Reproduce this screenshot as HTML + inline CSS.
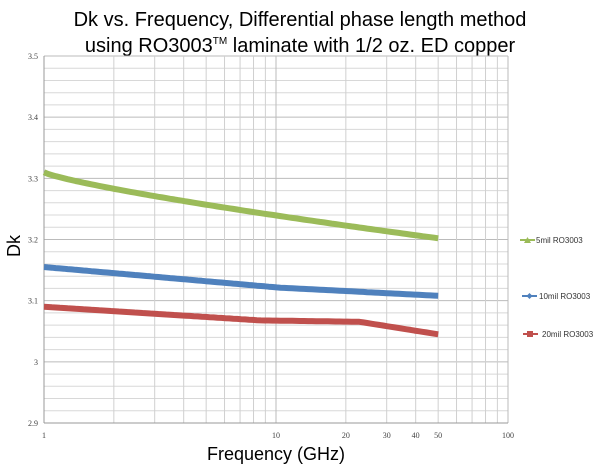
<!DOCTYPE html>
<html><head><meta charset="utf-8"><style>
body{margin:0;background:#fff;width:600px;height:470px;overflow:hidden}
</style></head><body>
<svg id="s" width="600" height="470" xmlns="http://www.w3.org/2000/svg" font-family="Liberation Sans, sans-serif">
<text x="300" y="26" font-size="20" text-anchor="middle" fill="#000">Dk vs. Frequency, Differential phase length method</text>
<text x="300" y="52" font-size="20" text-anchor="middle" fill="#000">using RO3003<tspan font-size="10" dy="-8">TM</tspan><tspan dy="8"> laminate with 1/2 oz. ED copper</tspan></text>
<g id="grid"></g>
<g id="series"></g>
<text x="20" y="246" font-size="18" text-anchor="middle" transform="rotate(-90 20 246)">Dk</text>
<text x="276" y="460" font-size="18" text-anchor="middle">Frequency (GHz)</text>
<g font-size="8" fill="#333">
<line x1="520" y1="240" x2="535" y2="240" stroke="#9bbb59" stroke-width="2"/><path d="M524,243 L527.5,237 L531,243Z" fill="#9bbb59"/><text x="536" y="243">5mil RO3003</text>
<line x1="522" y1="296" x2="537" y2="296" stroke="#4f81bd" stroke-width="2"/><path d="M529.5,293 L532.5,296 L529.5,299 L526.5,296Z" fill="#4f81bd"/><text x="539" y="299">10mil RO3003</text>
<line x1="523" y1="334" x2="538" y2="334" stroke="#c0504d" stroke-width="2"/><rect x="527" y="331" width="6" height="6" fill="#c0504d"/><text x="542" y="337">20mil RO3003</text>
</g>
</svg>
<script>
var L=44,B=423,T=56,D=232;
function X(f){return L+Math.log10(f)*D}
function Y(v){return B-(v-2.9)/0.6*(B-T)}
var g='';
for(var i=0;i<=30;i++){var y=B-i*(B-T)/30;g+='<line x1="'+L+'" x2="'+(L+2*D)+'" y1="'+y+'" y2="'+y+'" stroke="'+(i%5==0?'#bbb':'#d8d8d8')+'" stroke-width="1"/>';}
for(var d=1;d<=10;d*=10)for(var k=1;k<=10;k++){var x=X(d*k);g+='<line x1="'+x+'" x2="'+x+'" y1="'+T+'" y2="'+B+'" stroke="'+(k==1||k==10?'#bbb':'#d0d0d0')+'"/>';}
g+='<line x1="'+L+'" x2="'+L+'" y1="'+T+'" y2="'+B+'" stroke="#999"/><line x1="'+L+'" x2="'+(L+2*D)+'" y1="'+B+'" y2="'+B+'" stroke="#999"/>';
var tl=[2.9,3,3.1,3.2,3.3,3.4,3.5];
tl.forEach(function(v){g+='<text x="'+(L-6)+'" y="'+(Y(v)+3)+'" font-size="8" text-anchor="end" font-family="Liberation Serif,serif" fill="#444">'+(v==3?'3':v.toFixed(1))+'</text>'});
[[1,'1'],[10,'10'],[20,'20'],[30,'30'],[40,'40'],[50,'50'],[100,'100']].forEach(function(a){g+='<text x="'+X(a[0])+'" y="'+(B+15)+'" font-size="8" text-anchor="middle" font-family="Liberation Serif,serif" fill="#444">'+a[1]+'</text>'});
document.getElementById('grid').innerHTML=g;
var s='';
function ser(a,b,col,bend){var p='';for(var i=0;i<=100;i++){var t=i/100;var f=Math.pow(50,t);var v=a+(b-a)*(bend?bend(t):t);p+=(i?'L':'M')+X(f).toFixed(1)+','+Y(v).toFixed(1);}
s+='<path d="'+p+'" fill="none" stroke="'+col+'" stroke-width="6" stroke-linejoin="round"/>';}
ser(3.31,3.202,'#9bbb59',function(t){return Math.pow(t,0.8)});
ser(3.155,3.108,'#4f81bd',function(t){return t<0.6?t*1.2:0.72+(t-0.6)*0.7});
ser(3.09,3.045,'#c0504d',function(t){return t<0.55?t*0.9:(t<0.8?0.495+(t-0.55)*0.2:0.545+(t-0.8)*2.275)});
document.getElementById('series').innerHTML=s;
</script>
</body></html>
